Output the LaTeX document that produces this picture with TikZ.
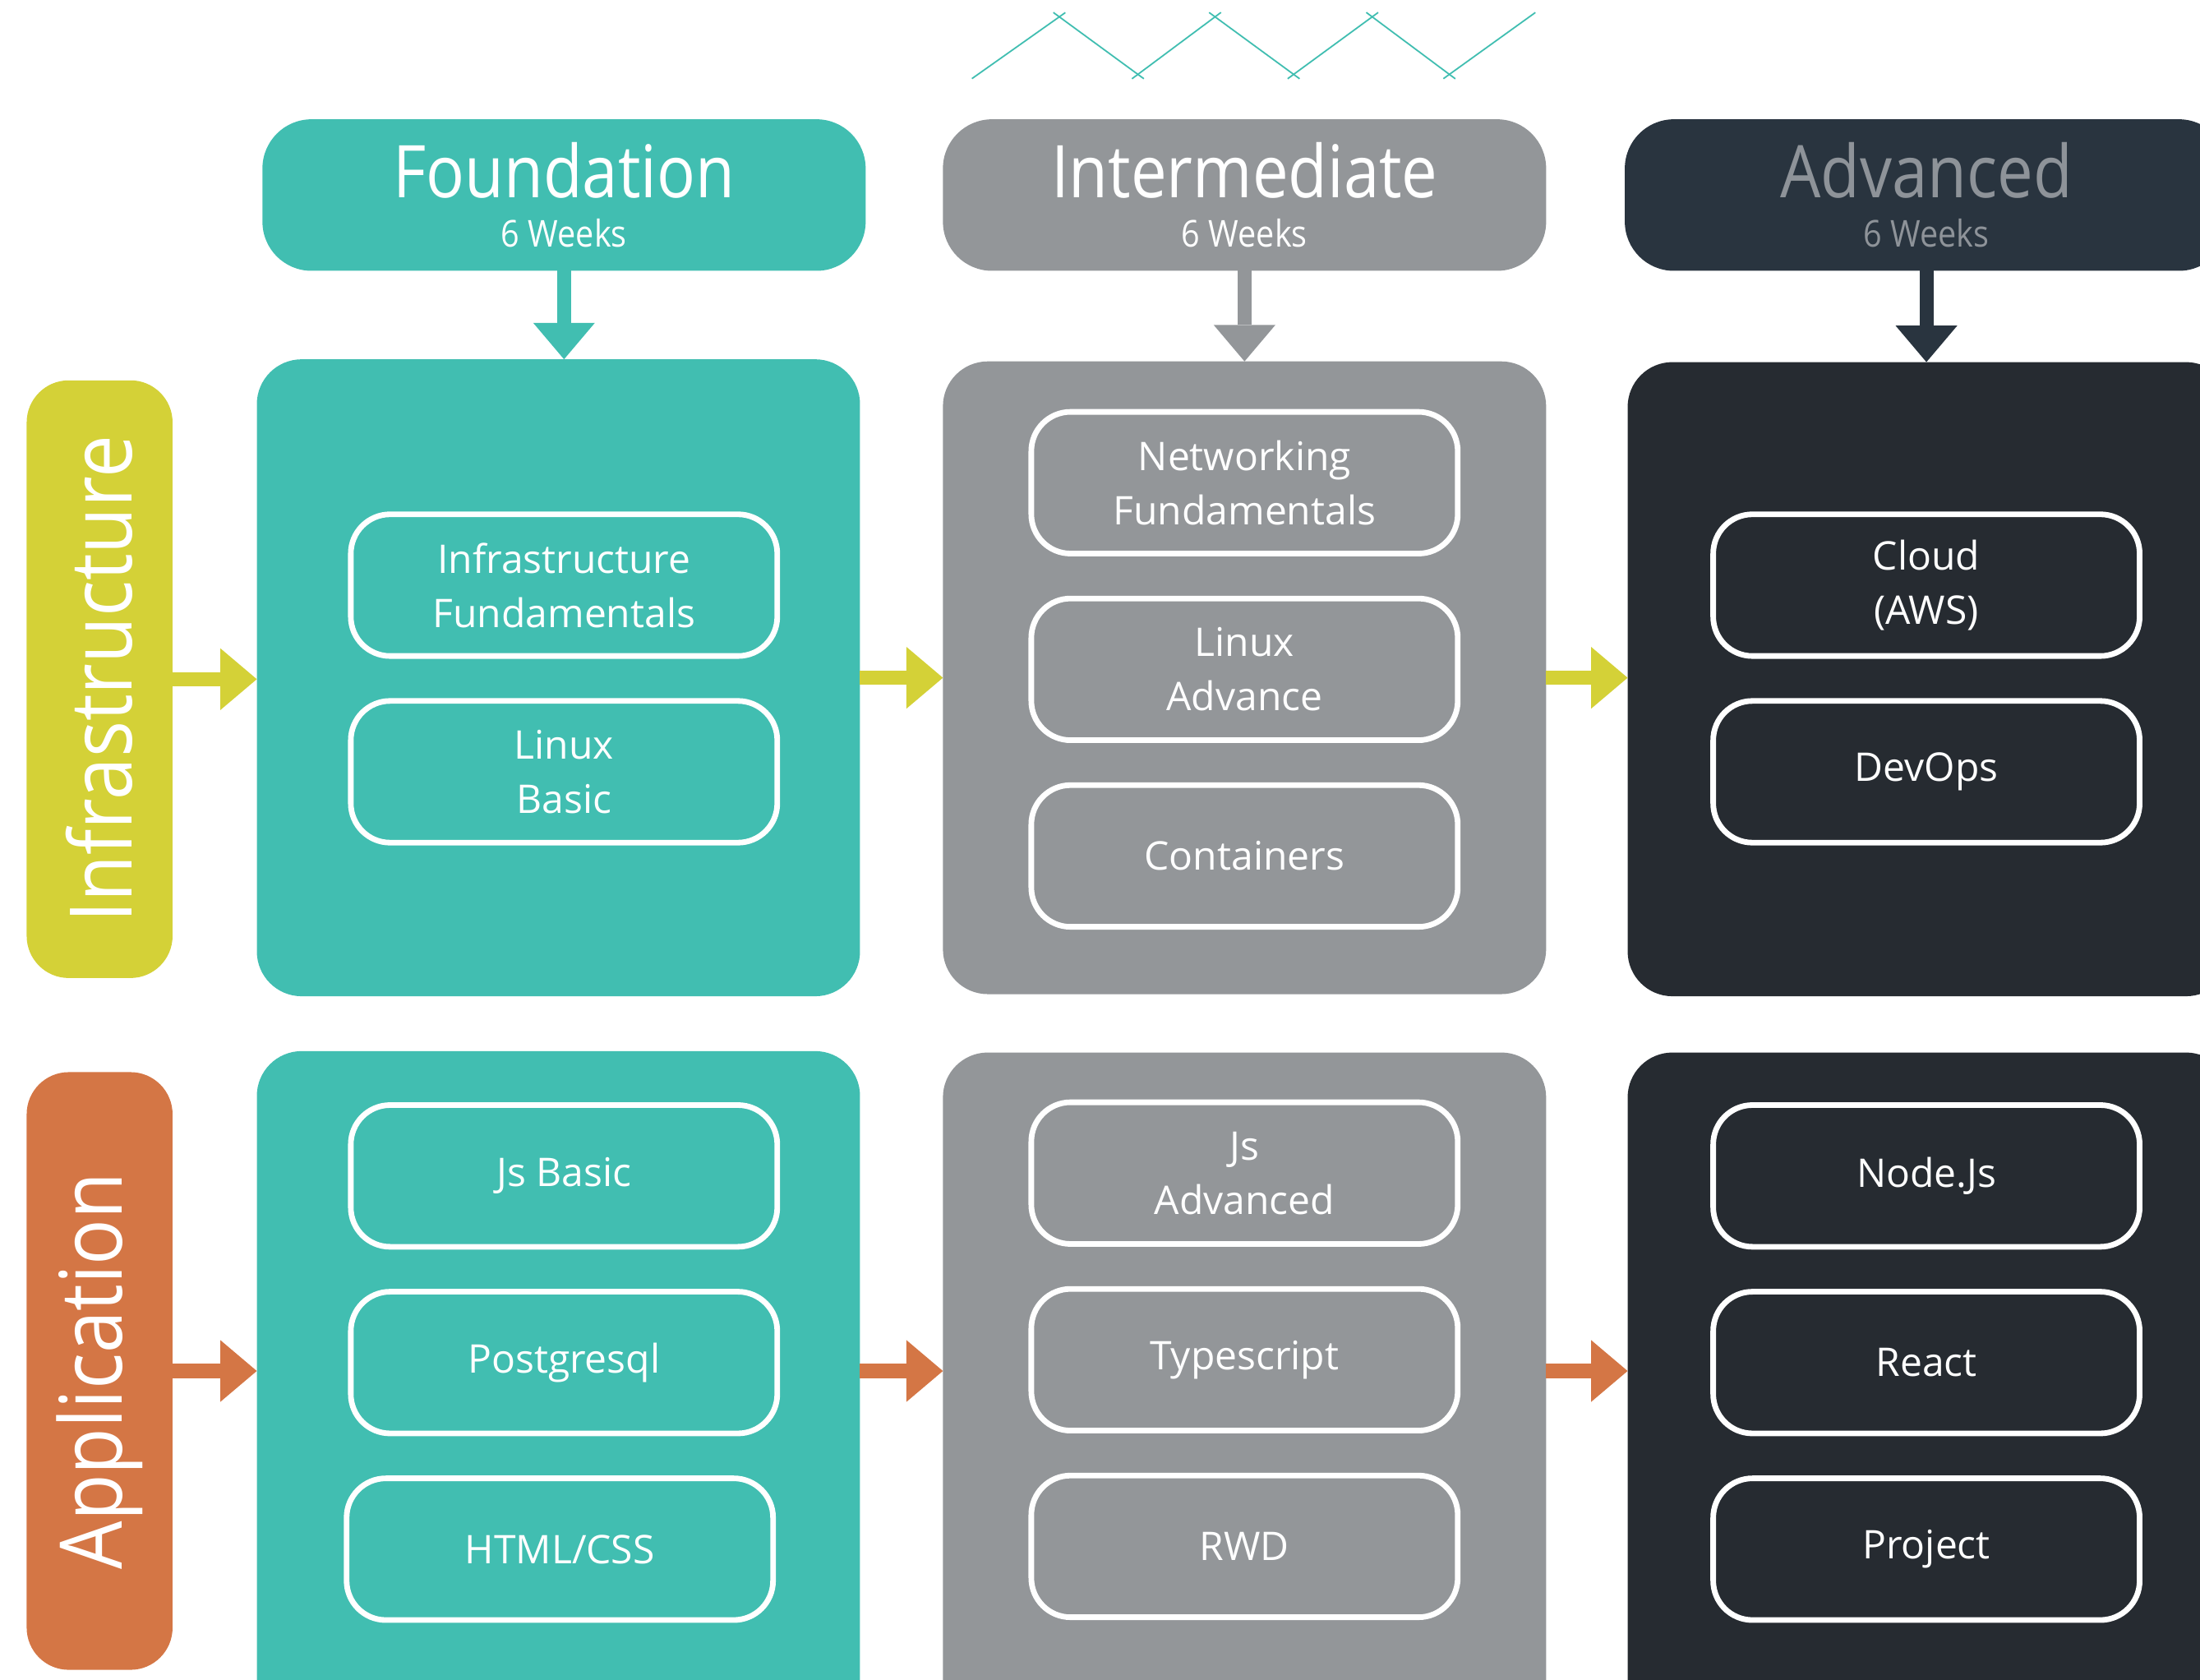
\documentclass[tikz,border=0pt]{standalone}
\usepackage{fontspec}
\setmainfont{Open Sans}
\newfontfamily\condfont[FakeStretch=0.88]{Open Sans}
\usepackage{tikz}
\usetikzlibrary{arrows.meta}
\definecolor{found}{HTML}{41BEB1}
\definecolor{inter}{HTML}{939699}
\definecolor{advhd}{HTML}{29343F}
\definecolor{adv}{HTML}{262B31}
\definecolor{advtxt}{HTML}{8E9399}
\definecolor{infra}{HTML}{D4D137}
\definecolor{appl}{HTML}{D47645}
\tikzset{
  hdr/.style={rounded corners=0.7cm, minimum width=8.6cm, minimum height=2.16cm,
    inner sep=0pt, outer sep=0pt, text=white, align=center},
  panel/.style={rounded corners=0.64cm, minimum width=8.6cm, inner sep=0pt, outer sep=0pt},
  item/.style={draw=white, line width=0.08cm, rounded corners=0.56cm,
    minimum width=6.08cm, minimum height=2.02cm, text=white, align=center,
    font=\fontsize{16}{22}\selectfont},
  side/.style={rounded corners=0.6cm, minimum width=8.52cm, minimum height=2.08cm,
    inner sep=0pt, outer sep=0pt, rotate=90, text=white,
    font=\condfont\fontsize{35}{40}\selectfont},
  arr/.style={line width=0.2cm, -{Triangle[length=0.52cm, width=0.88cm, line width=0pt]}},
  zig/.style={draw=found, line width=0.6pt, shorten <=-3pt, shorten >=-3pt}
}
\newcommand{\hdtext}[1]{{\condfont\fontsize{29.5}{32}\selectfont #1}\\[8pt]
  {\condfont\fontsize{15}{17}\selectfont 6 Weeks}}

\begin{document}
\begin{tikzpicture}[x=0.02cm, y=-0.02cm]
  \useasboundingbox (0,0) rectangle (1568,1197);
  \clip (0,0) rectangle (1568,1197);

  % zigzag
  \foreach \xa/\ya/\xb/\yb in {697/53/755/12, 755/12/811/53, 811/53/866/12,
      866/12/922/53, 922/53/978/12, 978/12/1033/53, 1033/53/1090/12}
    \draw[zig] (\xa,\ya) -- (\xb,\yb);

  % headers
  \node[hdr, fill=found] (hdF) at (402,139) {\hdtext{Foundation}};
  \node[hdr, fill=inter] (hdI) at (887,139) {\hdtext{Intermediate}};
  \node[hdr, fill=advhd, text=advtxt] (hdA) at (1373,139) {\hdtext{Advanced}};

  % panels
  \node[panel, fill=found, minimum height=9.08cm] (pF1) at (398,483) {};
  \node[panel, fill=inter, minimum height=9.02cm] (pI1) at (887,483) {};
  \node[panel, fill=adv,   minimum height=9.04cm] (pA1) at (1375,484) {};
  \node[panel, fill=found, minimum height=9.8cm] (pF2) at (398,994) {};
  \node[panel, fill=inter, minimum height=9.8cm] (pI2) at (887,995) {};
  \node[panel, fill=adv,   minimum height=9.8cm] (pA2) at (1375,995) {};

  % side labels
  \node[side, fill=infra] (lI) at (71,484) {Infrastructure};
  \node[side, fill=appl]  (lA) at (71,977) {Application};

  % down arrows
  \draw[arr, found] (hdF.south) -- (hdF.south |- pF1.north);
  \draw[arr, inter] (hdI.south) -- (hdI.south |- pI1.north);
  \draw[arr, advhd] (hdA.south) -- (hdA.south |- pA1.north);

  % row arrows
  \draw[arr, infra] (lI.south) -- (lI.south -| pF1.west);
  \draw[arr, infra] (pF1.east) -- (pF1.east -| pI1.west);
  \draw[arr, infra] (pI1.east) -- (pI1.east -| pA1.west);
  \draw[arr, appl] (lA.south) -- (lA.south -| pF2.west);
  \draw[arr, appl] (lA.south -| pF2.east) -- (lA.south -| pI2.west);
  \draw[arr, appl] (lA.south -| pI2.east) -- (lA.south -| pA2.west);

  % items
  \node[item] (infF) at (402,417) {Infrastructure\\Fundamentals};
  \node[item] (linB) at (402,550) {Linux\\Basic};
  \node[item] (netF) at (887,344) {Networking\\Fundamentals};
  \node[item] (linA) at (887,477) {Linux\\Advance};
  \node[item] (cont) at (887,610) {Containers};
  \node[item] (aws)  at (1373,417) {Cloud\\(AWS)};
  \node[item] (dops) at (1373,550) {DevOps};
  \node[item] (jsB)  at (402,838) {Js Basic};
  \node[item] (pgs)  at (402,971) {Postgresql};
  \node[item] (html) at (399,1104) {HTML/CSS};
  \node[item] (jsA)  at (887,836) {Js\\Advanced};
  \node[item] (tsc)  at (887,969) {Typescript};
  \node[item] (rwd)  at (887,1102) {RWD};
  \node[item] (node) at (1373,838) {Node.Js};
  \node[item] (rct)  at (1373,971) {React};
  \node[item] (proj) at (1373,1104) {Project};
\end{tikzpicture}
\end{document}
